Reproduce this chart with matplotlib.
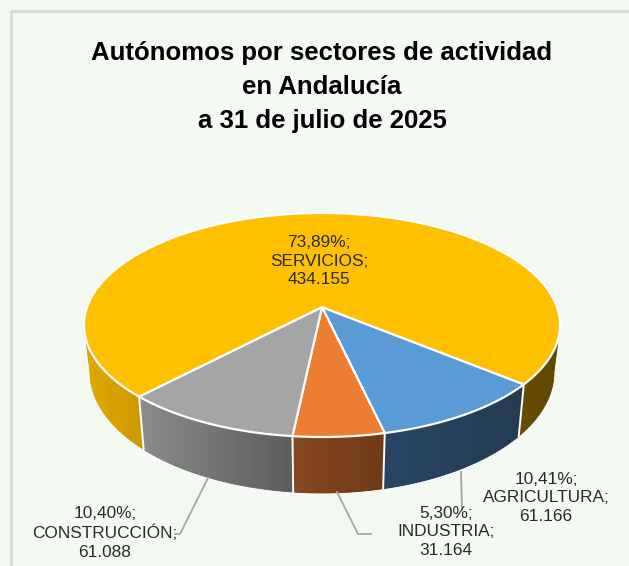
import numpy as np
import matplotlib
matplotlib.use("Agg")
import matplotlib.pyplot as plt
from matplotlib.patches import Polygon

sectors = ["AGRICULTURA", "INDUSTRIA", "CONSTRUCCIÓN", "SERVICIOS"]
values = [61166, 31164, 61088, 434155]
pct_labels = ["10,41%", "5,30%", "10,40%", "73,89%"]
val_labels = ["61.166", "31.164", "61.088", "434.155"]
top_colors = ["#5B9BD5", "#ED7D31", "#A5A5A5", "#FFC000"]
# wall gradient: left colour, right colour (screen order)
wall_colors = [((40, 70, 100), (36, 60, 82)), ((135, 72, 32), (112, 58, 24)),
               ((140, 140, 140), (92, 92, 92)), ((224, 170, 0), (204, 152, 0))]
wall_right_yellow = ((104, 78, 0), (96, 72, 0))
title = "Autónomos por sectores de actividad\nen Andalucía\na 31 de julio de 2025"
label_pos = {"AGRICULTURA": (546, 498), "INDUSTRIA": (446, 532),
             "CONSTRUCCIÓN": (105, 533), "SERVICIOS": (319, 261)}
leaders = {"AGRICULTURA": [(461, 472), (462, 510)],
           "INDUSTRIA": [(337, 492), (358, 534), (371, 534)],
           "CONSTRUCCIÓN": [(208, 478), (180, 534), (175, 534)]}

BG = "#F4F9F3"
fig = plt.figure(figsize=(6.29, 5.66), dpi=100, facecolor=BG)
ax = fig.add_axes([0, 0, 1, 1])
ax.set_xlim(0, 629); ax.set_ylim(566, 0); ax.axis("off")
plt.rcParams["font.family"] = ["Liberation Sans", "DejaVu Sans"]

CX, CY, A, B = 322, 325, 238, 112
BCY, BA, BB = 372, 232, 121
K = -0.16
START = 39.5


def persp(theta):
    """Perspective map of the unit circle: returns ellipse (cos t, sin t)."""
    u, v = np.cos(np.radians(theta)), np.sin(np.radians(theta))
    d = 1 + K * v
    return u * np.sqrt(1 - K ** 2) / d, (v + K) / d


def wall(tl, tr, c0, c1):
    """One side wall, tl..tr in screen left-to-right order (ellipse t, degrees)."""
    t = np.radians(np.linspace(tl, tr, 120))
    top = np.c_[CX + A * np.cos(t), CY + B * np.sin(t)]
    bot = np.c_[CX + BA * np.cos(t), BCY + BB * np.sin(t)]
    outline = np.r_[top, bot[::-1]]
    mean = tuple((a + b) / 510 for a, b in zip(c0, c1))
    base = Polygon(outline, closed=True, fc=mean, ec=mean, lw=0.6, zorder=2)
    ax.add_patch(base)
    grad = np.linspace(np.array(c0) / 255, np.array(c1) / 255, 256)[None, :, :]
    x0, x1 = outline[:, 0].min(), outline[:, 0].max()
    y0, y1 = outline[:, 1].min(), outline[:, 1].max()
    im = ax.imshow(grad, extent=(x0, x1, y1, y0), aspect="auto", zorder=2.1,
                   interpolation="bilinear")
    im.set_clip_path(Polygon(outline, closed=True, transform=ax.transData))


def sep(t):
    t = np.radians(t)
    ax.plot([CX + A * np.cos(t), CX + BA * np.cos(t)],
            [CY + B * np.sin(t), BCY + BB * np.sin(t)], color="white", lw=1.4, zorder=3)


fr = np.array(values) / sum(values)
edges = START + 360 * np.r_[0, np.cumsum(fr)]
apex = (CX, CY + B * K)


def ell_t(theta):
    c, s = persp(theta)
    return np.degrees(np.arctan2(s, c))


# walls
t_edges = [ell_t(e) for e in edges[:4]]
wall(t_edges[0], 0, *wall_right_yellow)
for i in range(3):
    wall(t_edges[i + 1], t_edges[i], *wall_colors[i])
wall(180, t_edges[3], *wall_colors[3])
for t in t_edges:
    sep(t)

# top faces
for i, c in enumerate(top_colors):
    th = np.linspace(edges[i], edges[i + 1], 240)
    cu, cv = persp(th)
    pts = np.c_[CX + A * cu, CY + B * cv]
    ax.add_patch(Polygon(np.r_[[apex], pts], closed=True, fc=c, ec="white", lw=1.6,
                         joinstyle="round", zorder=4))

# frame
ax.plot([10.5, 10.5, 629], [566, 11, 11], color="#D9D9D9", lw=2, zorder=1)

# leaders
for name, pts in leaders.items():
    p = np.array(pts)
    ax.plot(p[:, 0], p[:, 1], color="#A6A6A6", lw=1.3, zorder=5)

# labels
for s, p, v in zip(sectors, pct_labels, val_labels):
    x, y = label_pos[s]
    ax.text(x, y, f"{p};\n{s};\n{v}", ha="center", va="center", fontsize=12.4,
            color="#2A2A2A", linespacing=1.33, zorder=6)

ax.text(322, 87, title, ha="center", va="center", fontsize=18.5, fontweight="bold",
        color="black", linespacing=1.55, zorder=6)

ax.set_xlim(0, 629); ax.set_ylim(566, 0)
fig.savefig("out.png", dpi=100, facecolor=BG)
